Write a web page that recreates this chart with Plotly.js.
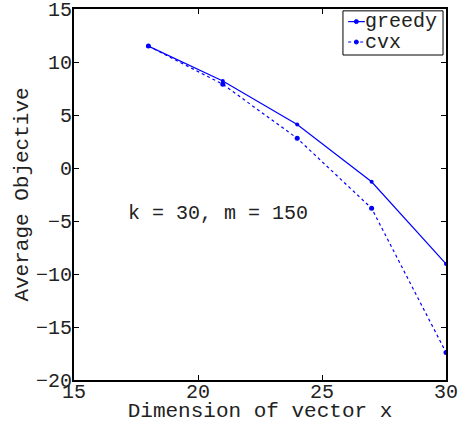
<!DOCTYPE html>
<html>
<head>
<meta charset="utf-8">
<script src="https://cdn.plot.ly/plotly-3.0.1.min.js"></script>
<style>html,body{margin:0;padding:0;background:#fff;}#chart{width:463px;height:423px;}</style>
</head>
<body>
<div id="chart"></div>
<script>
var dims = [18, 21, 24, 27, 30];
var greedy = [11.5, 8.2, 4.1, -1.3, -9.05];
var cvx = [11.5, 7.9, 2.8, -3.8, -17.4];
var seriesNames = ['greedy', 'cvx'];
var xTicks = [15, 20, 25, 30];
var yTicks = [-20, -15, -10, -5, 0, 5, 10, 15];
var FONT = '"Liberation Mono", "Courier New", monospace';
var BLUE = '#0000ff';

var traces = [
  {x: dims, y: greedy, name: seriesNames[0], mode: 'lines+markers', type: 'scatter', showlegend: false,
   line: {color: BLUE, width: 1.2, dash: 'solid'},
   marker: {color: BLUE, size: 4, symbol: 'circle'}},
  {x: dims, y: cvx, name: seriesNames[1], mode: 'lines+markers', type: 'scatter', showlegend: false,
   line: {color: BLUE, width: 1.2, dash: 'dot'},
   marker: {color: BLUE, size: 5, symbol: 'circle'}}
];

var axisBase = {
  showgrid: false, zeroline: false, showline: true, linecolor: '#000', linewidth: 2,
  mirror: 'ticks', ticks: 'inside', ticklen: 5, tickwidth: 1, tickcolor: '#000',
  ticklabeloverflow: 'allow',
  tickfont: {family: FONT, size: 20, color: '#222'}
};

// legend box geometry (paper fractions of plot area)
var lgX0 = 0.723, lgX1 = 0.992, lgY0 = 0.876, lgY1 = 0.995;
var sX0 = 0.737, sX1 = 0.782, sXm = 0.759;
var rowY = [0.966, 0.911];
var dashes = ['solid', 'dot'];

var shapes = [{type: 'rect', xref: 'paper', yref: 'paper', x0: lgX0, x1: lgX1, y0: lgY0, y1: lgY1,
  line: {color: '#000', width: 1}, fillcolor: '#fff', layer: 'above'}];
var annotations = [{x: 20.8, y: -4.3, xref: 'x', yref: 'y', text: 'k = 30, m = 150', showarrow: false,
  font: {family: FONT, size: 20, color: '#222'}}];
for (var i = 0; i < seriesNames.length; i++) {
  shapes.push({type: 'line', xref: 'paper', yref: 'paper', x0: sX0, x1: sX1, y0: rowY[i], y1: rowY[i],
    line: {color: BLUE, width: 1.2, dash: dashes[i]}, layer: 'above'});
  shapes.push({type: 'circle', xref: 'paper', yref: 'paper', xsizemode: 'pixel', ysizemode: 'pixel',
    xanchor: sXm, yanchor: rowY[i], x0: -2, x1: 2, y0: -2, y1: 2,
    line: {color: BLUE, width: 1}, fillcolor: BLUE, layer: 'above'});
  annotations.push({xref: 'paper', yref: 'paper', x: sX1, y: rowY[i], xanchor: 'left', yanchor: 'middle',
    text: seriesNames[i], showarrow: false, font: {family: FONT, size: 20, color: '#222'}, xshift: -2});
}

var layout = {
  width: 463, height: 423,
  margin: {l: 74, r: 17, t: 9, b: 43},
  paper_bgcolor: '#fff', plot_bgcolor: '#fff',
  font: {family: FONT, color: '#222'},
  showlegend: false,
  xaxis: Object.assign({}, axisBase, {
    range: [15, 30], tickvals: xTicks, ticktext: xTicks.map(String), ticklabelstandoff: -8,
    title: {text: 'Dimension of vector x', font: {family: FONT, size: 21, color: '#222'}, standoff: 0}
  }),
  yaxis: Object.assign({}, axisBase, {
    range: [-20, 15], tickvals: yTicks, ticklabelstandoff: -4,
    ticktext: yTicks.map(function(v){return v < 0 ? '\u2212' + Math.abs(v) : String(v);}),
    title: {text: 'Average Objective', font: {family: FONT, size: 21, color: '#222'}, standoff: 2}
  }),
  shapes: shapes,
  annotations: annotations
};

Plotly.newPlot('chart', traces, layout, {displayModeBar: false, staticPlot: true});
</script>
</body>
</html>
